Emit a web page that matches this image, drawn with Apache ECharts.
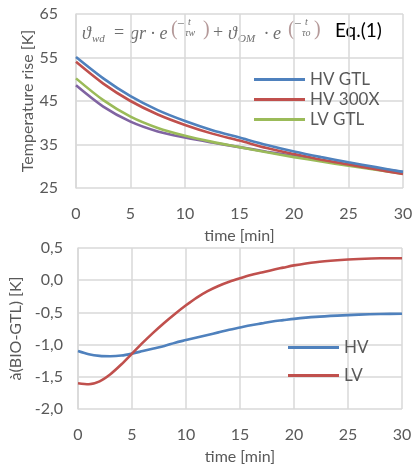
<!DOCTYPE html>
<html><head><meta charset="utf-8">
<script src="https://cdn.jsdelivr.net/npm/echarts@6/dist/echarts.min.js"></script>
<style>html,body{margin:0;padding:0;background:#fff}#c{width:416px;height:466px}</style>
</head><body><div id="c"></div>
<script>
// ---- data ----
const time = [0, 2.5, 5, 7.5, 10, 12.5, 15, 17.5, 20, 22.5, 25, 27.5, 30];
const hvGtl  = [55.1, 50.2, 46.1, 42.9, 40.4, 38.3, 36.6, 34.9, 33.4, 32.1, 30.9, 29.8, 28.7];
const hv300x = [54.0, 49.0, 45.0, 41.9, 39.5, 37.5, 35.9, 34.2, 32.8, 31.5, 30.4, 29.3, 28.2];
const lvGtl  = [50.2, 45.2, 41.4, 38.8, 37.0, 35.6, 34.4, 33.2, 32.1, 31.1, 30.1, 29.2, 28.3];
const lvBio  = [48.6, 43.7, 40.25, 38.0, 36.6, 35.45, 34.4, 33.35, 32.35, 31.4, 30.4, 29.55, 28.65];
const diffTime = [0, 1, 2, 3, 4, 5, 6, 7, 8, 9, 10, 11, 12, 13, 14, 15, 16, 17, 18, 19, 20, 22, 24, 26, 28, 30];
const diffHV = [-1.10, -1.15, -1.175, -1.18, -1.17, -1.14, -1.10, -1.06, -1.02, -0.97, -0.93, -0.89, -0.85, -0.81, -0.77, -0.735, -0.70, -0.67, -0.64, -0.62, -0.60, -0.57, -0.55, -0.535, -0.525, -0.52];
const diffLV = [-1.60, -1.615, -1.57, -1.46, -1.31, -1.14, -0.97, -0.81, -0.66, -0.52, -0.39, -0.27, -0.17, -0.09, -0.025, 0.03, 0.08, 0.12, 0.16, 0.195, 0.23, 0.28, 0.31, 0.33, 0.34, 0.34];
const topLegend = ['HV GTL', 'HV 300X', 'LV GTL'];
const botLegend = ['HV', 'LV'];

const pair = (xs, ys) => xs.map((x, i) => [x, ys[i]]);
const FONT = 'Lato, "Liberation Sans", sans-serif';
const SERIF = '"Liberation Serif", "DejaVu Serif", serif';
const TXT = '#595959';
const GRID = '#d9d9d9';
const C = {blue: '#4F81BD', red: '#C0504D', green: '#9BBB59', purple: '#8064A2'};

function xAx(gi) {
  return {
    type: 'value', gridIndex: gi, min: 0, max: 30, interval: 5,
    name: 'time [min]', nameLocation: 'middle', nameGap: 40, nameMoveOverlap: false,
    nameTextStyle: {color: TXT, fontSize: 16, fontFamily: FONT},
    axisLine: {show: false}, axisTick: {show: false},
    axisLabel: {color: TXT, fontSize: 16, fontFamily: FONT, margin: 18},
    splitLine: {show: true, lineStyle: {color: GRID, width: 1.5}}
  };
}
const chart = echarts.init(document.getElementById('c'), null, {renderer: 'canvas'});
const line = (name, data, color, xi) => ({
  name, type: 'line', xAxisIndex: xi, yAxisIndex: xi, data, smooth: 0.3,
  showSymbol: false, symbol: 'none', lineStyle: {color, width: 2.6}, itemStyle: {color}
});
// formula pieces (text only)
function t(x, y, text, size, color, italic) {
  return {type: 'text', x, y, silent: true, style: {
    text, fill: color || '#6f6f6f', fontSize: size, fontFamily: SERIF,
    fontStyle: italic === false ? 'normal' : 'italic', verticalAlign: 'bottom'}};
}
const PC = '#b59a9a';
const formula = [
  t(82, 43, 'ϑ', 18), t(92, 45, 'wd', 11),
  t(114, 42, '=', 18, null, false),
  t(130, 43, 'gr · e', 18),
  t(171, 40, '(', 20, PC, false), t(177, 31, '−', 13, null, false),
  t(188, 27, 't', 10), t(185, 38, 'τw', 10),
  t(203, 40, ')', 20, PC, false),
  t(213, 42, '+', 18, null, false),
  t(228, 43, 'ϑ', 18), t(238, 45, 'OM', 11),
  t(264, 43, '· e', 18),
  t(288, 40, '(', 20, PC, false), t(294, 31, '−', 13, null, false),
  t(305, 27, 't', 10), t(302, 38, 'τo', 10),
  t(314, 40, ')', 20, PC, false)
];
chart.setOption({
  animation: false,
  grid: [
    {left: 76, right: 13, top: 14, height: 174},
    {left: 77, right: 14, top: 248, height: 161}
  ],
  xAxis: [xAx(0), xAx(1)],
  yAxis: [
    {type: 'value', gridIndex: 0, min: 25, max: 65, interval: 10,
     name: 'Temperature rise [K]', nameLocation: 'middle', nameGap: 40, nameMoveOverlap: false,
     nameTextStyle: {color: TXT, fontSize: 16, fontFamily: FONT},
     axisLine: {show: true, lineStyle: {color: GRID, width: 1.5}}, axisTick: {show: false},
     axisLabel: {color: TXT, fontSize: 16, fontFamily: FONT, margin: 18},
     splitLine: {lineStyle: {color: GRID, width: 1.5}}},
    {type: 'value', gridIndex: 1, min: -2, max: 0.5, interval: 0.5,
     name: 'à(BIO-GTL) [K]', nameLocation: 'middle', nameGap: 54, nameMoveOverlap: false,
     nameTextStyle: {color: TXT, fontSize: 16, fontFamily: FONT},
     axisLine: {show: true, lineStyle: {color: GRID, width: 1.5}}, axisTick: {show: false},
     axisLabel: {color: TXT, fontSize: 16, fontFamily: FONT, margin: 15,
       formatter: v => v.toFixed(1).replace('.', ',')},
     splitLine: {lineStyle: {color: GRID, width: 1.5}}}
  ],
  legend: [
    {data: topLegend, orient: 'vertical', left: 254, top: 71, padding: 0, itemWidth: 51, itemHeight: 3,
     icon: 'rect', itemGap: 3, textStyle: {color: TXT, fontSize: 17, fontFamily: FONT, lineHeight: 16}},
    {data: botLegend, orient: 'vertical', left: 288, top: 339, padding: 0, itemWidth: 51, itemHeight: 3,
     icon: 'rect', itemGap: 11, textStyle: {color: TXT, fontSize: 17, fontFamily: FONT, lineHeight: 16}}
  ],
  series: [
    line('LV BIO', pair(time, lvBio), C.purple, 0),
    line('LV GTL', pair(time, lvGtl), C.green, 0),
    line('HV 300X', pair(time, hv300x), C.red, 0),
    line('HV GTL', pair(time, hvGtl), C.blue, 0),
    line('HV', pair(diffTime, diffHV), C.blue, 1),
    line('LV', pair(diffTime, diffLV), C.red, 1)
  ],
  graphic: formula.concat([
    {type: 'text', x: 335, y: 31, style: {text: 'Eq.(1)', fill: '#000', fontSize: 19, fontFamily: FONT, verticalAlign: 'middle'}}
  ])
});
</script></body></html>
